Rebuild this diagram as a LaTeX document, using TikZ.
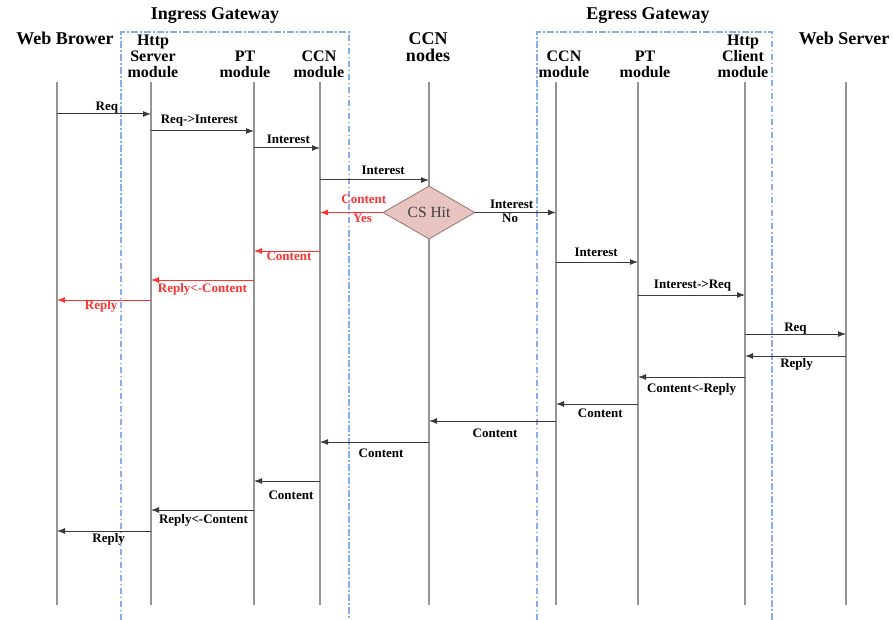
\documentclass[tikz,border=0pt]{standalone}
\usepackage{fontspec}
\setmainfont{Liberation Serif}
\usetikzlibrary{shapes.geometric,arrows.meta}

\definecolor{lifegray}{HTML}{959595}
\definecolor{msggray}{HTML}{3A3A3A}
\definecolor{hitred}{HTML}{FF3333}
\definecolor{gwblue}{HTML}{86AEEA}
\definecolor{csfill}{HTML}{E8C4C0}
\definecolor{csdraw}{HTML}{9A7070}

% one message: style, from, to, y, label pos, label shift, label text
\newcommand\sendmsg[7]{%
  \draw[#1] (#2 |- 0,#4) -- node[lbl,pos=#5,yshift=#6pt] {#7} (#3 |- 0,#4);}

\begin{document}
\begin{tikzpicture}[x=1pt,y=-1pt,
  life/.style={draw=lifegray,line width=2pt},
  msg/.style={draw=msggray,line width=1pt,-{Latex[length=8pt,width=6pt]}},
  reply/.style={msg,draw=hitred,text=hitred},
  lbl/.style={anchor=base,inner sep=0pt,font=\bfseries\fontsize{13}{13}\selectfont},
  title/.style={anchor=base,inner sep=0pt,font=\bfseries\fontsize{18}{18}\selectfont},
  module/.style={anchor=south,inner sep=0pt,align=center,
    font=\bfseries\fontsize{16}{16}\selectfont},
  gwbox/.style={draw=gwblue,line width=1.1pt,
    dash pattern=on 6.5pt off 2.5pt on 1.5pt off 2.5pt},
  cshit/.style={diamond,draw=csdraw,fill=csfill,line width=0.8pt,
    minimum width=92pt,minimum height=49pt,inner sep=0pt,
    font=\fontsize{15.5}{15.5}\selectfont,text=black!75}]

\useasboundingbox (0,0) rectangle (893,620);
\fill[white] (0,0) rectangle (893,620);

% gateway frames
\draw[gwbox] (121,620) -- (121,32) -- (349,32) -- (349,620);
\draw[gwbox] (537,620) -- (537,32) -- (772,32) -- (772,620);

% headings
\node[title] (ingress) at (215,20) {Ingress Gateway};
\node[title] (egress)  at (648,20) {Egress Gateway};
\node[title] (wbname)  at (65,45)  {Web Brower};
\node[title] (wsname)  at (844,45) {Web Server};
\node[title] (ccnA)    at (428,45) {CCN};
\node[title] (ccnB)    at (428,62) {nodes};

\node[module] (hsname)  at (153,78) {Http\\Server\\module};
\node[module] (iptname) at (245,78) {PT\\module};
\node[module] (icnname) at (319,78) {CCN\\module};
\node[module] (ecnname) at (564,78) {CCN\\module};
\node[module] (eptname) at (645,78) {PT\\module};
\node[module] (hcname)  at (743,78) {Http\\Client\\module};

% lifelines
\foreach \n/\x in {wb/57,hs/151,ipt/254,icn/320,ccn/429,ecn/556,ept/638,hc/745,ws/846}{
  \coordinate (\n) at (\x,82);
  \coordinate (\n end) at (\x,605);
  \draw[life] (\n) -- (\n end);
}

% request path
\sendmsg{msg}{wb}{hs}{114}{0.53}{3}{Req}
\sendmsg{msg}{hs}{ipt}{131}{0.47}{7}{Req->Interest}
\sendmsg{msg}{ipt}{icn}{148}{0.52}{4}{Interest}
\sendmsg{msg}{icn}{ccn}{180}{0.58}{5}{Interest}

% content store lookup
\node[cshit] (cs) at (429,212.5) {CS Hit};
\draw[reply] (cs.west) -- node[lbl,pos=0.3,yshift=9pt] {Content}
  node[lbl,pos=0.32,yshift=-10pt] {Yes} (icn |- cs.west);
\draw[msg] (cs.east) -- node[lbl,pos=0.45,yshift=4pt] {Interest}
  node[lbl,pos=0.43,yshift=-10pt] {No} (ecn |- cs.east);

% hit: content returned directly
\sendmsg{reply}{icn}{ipt}{251}{0.47}{-9}{Content}
\sendmsg{reply}{ipt}{hs}{280}{0.5}{-12}{Reply<-Content}
\sendmsg{reply}{hs}{wb}{300}{0.53}{-9}{Reply}

% miss: forwarded through the egress gateway
\sendmsg{msg}{ecn}{ept}{262}{0.49}{6}{Interest}
\sendmsg{msg}{ept}{hc}{295}{0.51}{7}{Interest->Req}
\sendmsg{msg}{hc}{ws}{334}{0.5}{3}{Req}
\sendmsg{msg}{ws}{hc}{356}{0.49}{-11}{Reply}
\sendmsg{msg}{hc}{ept}{377}{0.5}{-15}{Content<-Reply}
\sendmsg{msg}{ept}{ecn}{404}{0.46}{-13}{Content}
\sendmsg{msg}{ecn}{ccn}{421}{0.48}{-16}{Content}
\sendmsg{msg}{ccn}{icn}{442}{0.44}{-15}{Content}
\sendmsg{msg}{icn}{ipt}{481}{0.44}{-18}{Content}
\sendmsg{msg}{ipt}{hs}{510}{0.49}{-13}{Reply<-Content}
\sendmsg{msg}{hs}{wb}{531}{0.45}{-11}{Reply}

\end{tikzpicture}
\end{document}
